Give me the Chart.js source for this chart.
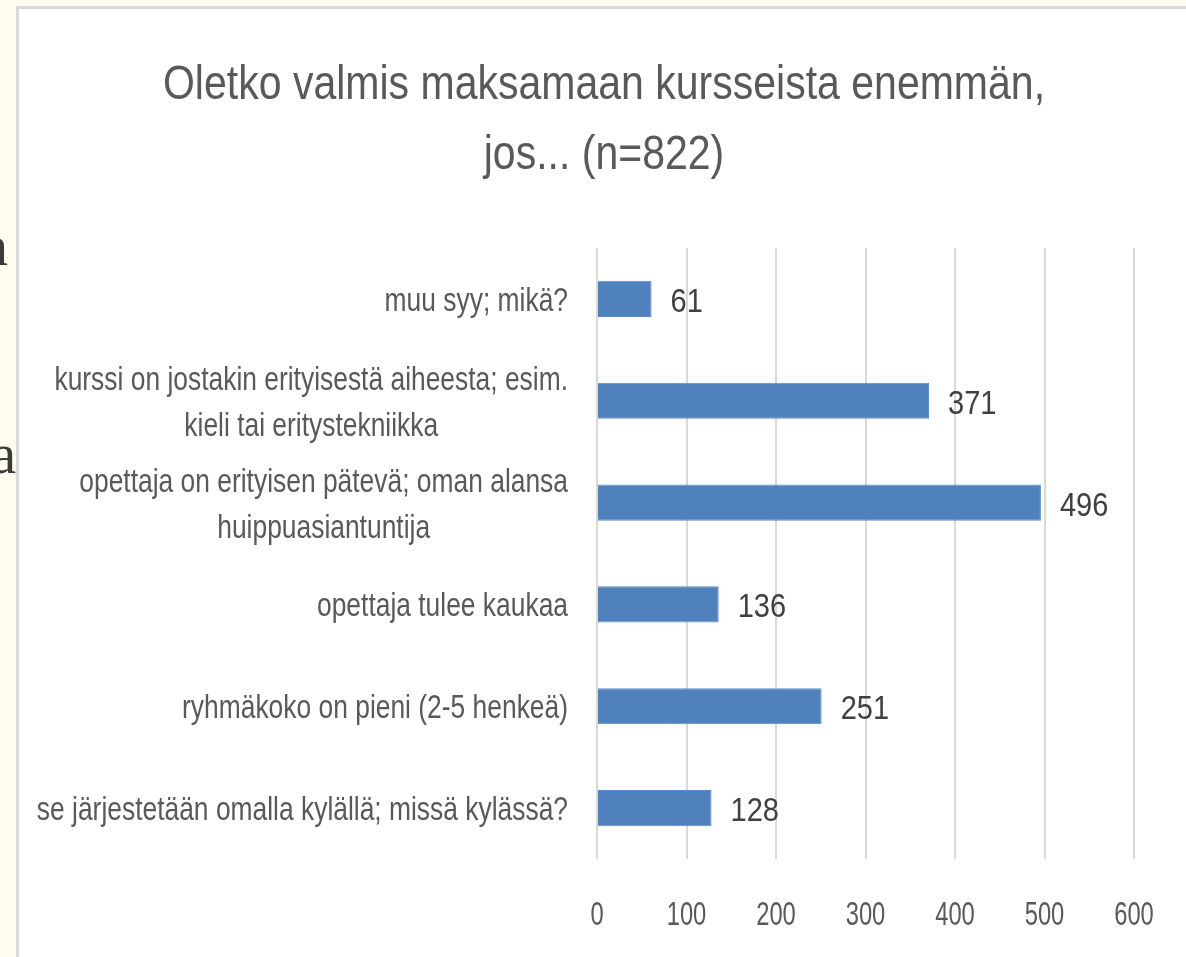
<!DOCTYPE html>
<html>
<head>
<meta charset="utf-8">
<script src="https://cdn.jsdelivr.net/npm/chart.js@4"></script>
<style>
  body { margin: 0; width: 1186px; height: 957px; overflow: hidden; background: #fefdee; position: relative; }
  .cut { position: absolute; font-family: 'Liberation Serif', serif; font-size: 56px; line-height: 1; color: #3a3a3a; text-align: right; }
  .panel { position: absolute; left: 16px; top: 6px; width: 1220px; height: 1000px; background: #fff; border: 3px solid #d9d9d9; box-sizing: border-box; }
  #chart { position: absolute; left: 0; top: 0; }
</style>
</head>
<body>
<div class="cut" style="left:-300px; width:308px; top:218px;">n</div>
<div class="cut" style="left:-300px; width:316px; top:426px;">a</div>
<div class="panel"></div>
<canvas id="chart" width="1186" height="957"></canvas>
<script>
// chart data
const chartTitle = ['Oletko valmis maksamaan kursseista enemmän,', 'jos... (n=822)'];
const categories = [
    ['muu syy; mikä?'],
    ['kurssi on jostakin erityisestä aiheesta; esim.', 'kieli tai eritystekniikka'],
    ['opettaja on erityisen pätevä; oman alansa', 'huippuasiantuntija'],
    ['opettaja tulee kaukaa'],
    ['ryhmäkoko on pieni (2-5 henkeä)'],
    ['se järjestetään omalla kylällä; missä kylässä?']
];
const answers = [61, 371, 496, 136, 251, 128];
const xTicks = [0, 100, 200, 300, 400, 500, 600];

const FONT = "'Liberation Sans', Arial, sans-serif";
const TEXT_GREY = '#595959';

// draws text squeezed horizontally, the original uses a narrow font
function squeezedText(ctx, text, x, y, align, sx) {
    ctx.save();
    ctx.translate(x, y);
    ctx.scale(sx, 1);
    ctx.textAlign = align;
    ctx.fillText(text, 0, 0);
    ctx.restore();
}

const textLayer = {
    id: 'textLayer',
    afterDraw(chart) {
        const ctx = chart.ctx;
        const area = chart.chartArea;
        const xScale = chart.scales.x;
        const yScale = chart.scales.y;
        ctx.save();
        ctx.textBaseline = 'alphabetic';
        ctx.fillStyle = TEXT_GREY;

        // title
        ctx.font = '49px ' + FONT;
        chartTitle.forEach((line, i) => {
            squeezedText(ctx, line, 604, 99 + i * 70, 'center', 0.837);
        });

        // category labels: block right-aligned, lines centred inside it
        const sx = 0.8;
        ctx.font = '33px ' + FONT;
        const right = area.left - 29;
        categories.forEach((lines, i) => {
            const cy = yScale.getPixelForValue(i);
            const w = Math.max(...lines.map(l => ctx.measureText(l).width)) * sx;
            const cx = right - w / 2;
            lines.forEach((line, j) => {
                squeezedText(ctx, line, cx, cy + 12 + (j - (lines.length - 1) / 2) * 46, 'center', sx);
            });
        });

        // x tick labels
        ctx.font = '33px ' + FONT;
        xTicks.forEach(v => {
            squeezedText(ctx, String(v), xScale.getPixelForValue(v), 925, 'center', 0.72);
        });
        ctx.restore();
    },
    afterDatasetsDraw(chart) {
        // value labels at the end of each bar
        const ctx = chart.ctx;
        const meta = chart.getDatasetMeta(0);
        ctx.save();
        ctx.font = '33px ' + FONT;
        ctx.fillStyle = '#404040';
        ctx.textBaseline = 'alphabetic';
        meta.data.forEach((bar, i) => {
            squeezedText(ctx, String(answers[i]), bar.x + 19, bar.y + 13, 'left', 0.88);
        });
        ctx.restore();
    }
};

new Chart(document.getElementById('chart'), {
    type: 'bar',
    data: {
        labels: categories.map(c => c.join(' ')),
        datasets: [{
            data: answers,
            backgroundColor: '#4f81bd',
            borderColor: '#5a8ccb',
            borderWidth: 1,
            barPercentage: 0.355,
            categoryPercentage: 1
        }]
    },
    options: {
        indexAxis: 'y',
        responsive: false,
        animation: false,
        layout: { padding: { left: 597, right: 52, top: 248, bottom: 25 } },
        plugins: {
            legend: { display: false },
            tooltip: { enabled: false },
            title: { display: false }
        },
        scales: {
            x: {
                min: xTicks[0],
                max: xTicks[xTicks.length - 1],
                grid: { color: '#d9d9d9', lineWidth: 2, drawTicks: false },
                border: { display: false },
                ticks: { stepSize: 100, display: false },
                afterFit(scale) { scale.height = 73; }
            },
            y: {
                display: false
            }
        }
    },
    plugins: [textLayer]
});
</script>
</body>
</html>
